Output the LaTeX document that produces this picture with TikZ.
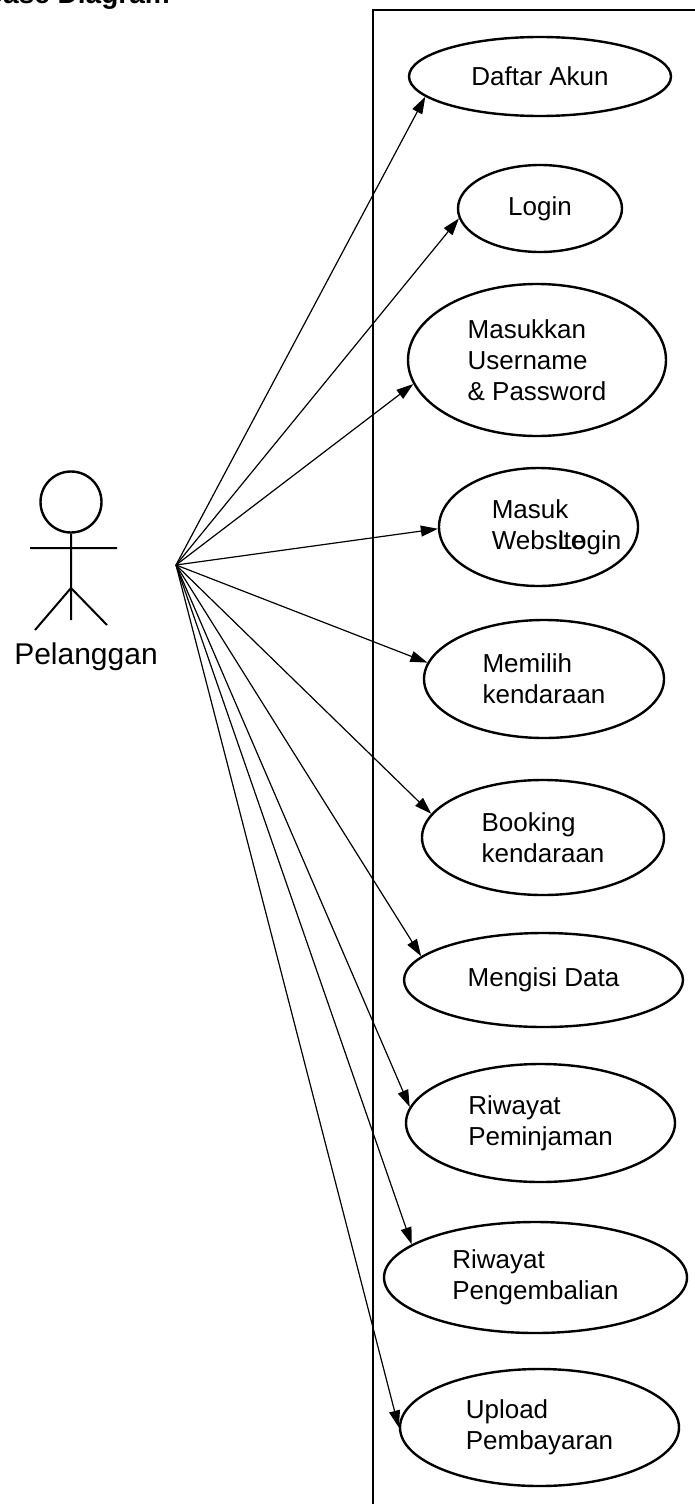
\documentclass[tikz,border=0pt]{standalone}
\usepackage{fontspec}
\setmainfont{Liberation Sans}
\usetikzlibrary{shapes, arrows.meta}

\tikzset{
    usecase/.style={ellipse, draw, line width=2.4pt, inner sep=0pt, align=left, font=\fontsize{26}{31}\selectfont},
    assoc/.style={-{Triangle[length=17pt, width=11pt]}, line width=1.2pt}
}

\begin{document}
\begin{tikzpicture}[x=1pt, y=-1pt]
        \clip (0, 0) rectangle (695, 1504);
        \node[anchor=base east, inner sep=0pt, font=\fontsize{28}{34}\selectfont\bfseries] at (170, 4) (title) {Use Case Diagram};
        \draw[line width=2.8pt] (720, 10) -- (373, 10) -- (373, 1530);

        % actor
        \node[circle, draw, line width=2.4pt, minimum size=61pt, inner sep=0pt] at (71, 502) (head) {};
        \draw[line width=2pt] (head.south) -- (71, 620)
        (30, 548) -- (117, 548)
        (35, 630) -- (71, 588) -- (107, 625);
        \node[anchor=base, inner sep=0pt, font=\fontsize{30}{36}\selectfont] at (86, 664) (pelanggan) {Pelanggan};
        \coordinate (src) at (176, 565);

        % use cases
        \node[usecase, minimum width=262pt, minimum height=79pt] at (540, 76.5) (daftar) {Daftar Akun};
        \node[usecase, minimum width=164pt, minimum height=87pt] at (540, 208.5) (login) {Login};
        \node[usecase, minimum width=258pt, minimum height=152pt] at (537, 360) (masukkan) {Masukkan\\Username\\\& Password};
        \node[usecase, minimum width=199pt, minimum height=118pt] at (538.5, 527) (website) {Masuk\\Webs\rlap{Login}ite};
        \node[usecase, minimum width=240pt, minimum height=118pt] at (544, 679) (memilih) {Memilih\\kendaraan};
        \node[usecase, minimum width=242pt, minimum height=115pt] at (543, 837.5) (booking) {Booking\\kendaraan};
        \node[usecase, minimum width=279pt, minimum height=94pt] at (543.5, 980) (mengisi) {Mengisi Data};
        \node[usecase, minimum width=269pt, minimum height=118pt] at (540.5, 1123) (pinjam) {Riwayat\\Peminjaman};
        \node[usecase, minimum width=303pt, minimum height=111pt] at (535.5, 1277.5) (kembali) {Riwayat\\Pengembalian};
        \node[usecase, minimum width=279pt, minimum height=117pt] at (539.5, 1427.5) (upload) {Upload\\Pembayaran};

        \draw[assoc] (src) -- (daftar.190);
        \draw[assoc] (src) -- (login.187);
        \draw[assoc] (src) -- (masukkan.191);
        \draw[assoc] (src) -- (website.181);
        \draw[assoc] (src) -- (memilih.172);
        \draw[assoc] (src) -- (booking.168);
        \draw[assoc] (src) -- (mengisi.169);
        \draw[assoc] (src) -- (pinjam.173);
        \draw[assoc] (src) -- (kembali.165);
        \draw[assoc] (src) -- (upload.180);
    \end{tikzpicture}
\end{document}
